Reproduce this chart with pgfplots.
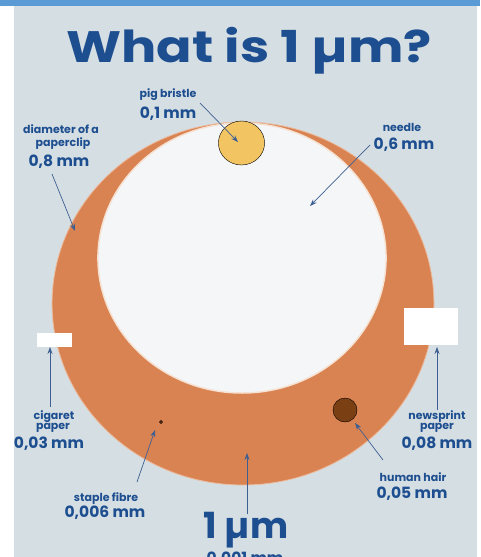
\documentclass[border=0pt]{standalone}
\usepackage{pgfplots}
\pgfplotsset{compat=1.18}
\usepackage{fontspec}
\setmainfont{Poppins}
\usetikzlibrary{arrows.meta}
\definecolor{bg}{HTML}{D5DEE2}
\definecolor{topbar}{HTML}{5B9BD5}
\definecolor{orng}{HTML}{DA8352}
\definecolor{inner}{HTML}{F5F6F8}
\definecolor{rim}{HTML}{F6E2D2}
\definecolor{yell}{HTML}{F2C462}
\definecolor{brown}{HTML}{7B3F14}
\definecolor{txt}{HTML}{1D4E90}
\definecolor{arr}{HTML}{3E5F92}
\newcommand{\nm}{\color{txt}\fontsize{11}{12}\selectfont\bfseries}
\newcommand{\vl}{\color{txt}\fontsize{15.5}{16}\selectfont\bfseries}
\begin{document}
\begin{tikzpicture}
\path[use as bounding box] (0,0) rectangle (480pt,557pt);
\clip (0,0) rectangle (480pt,557pt);
\begin{axis}[at={(0,0)}, anchor=south west, scale only axis,
  width=480pt, height=557pt, xmin=0, xmax=480, ymin=0, ymax=557,
  y dir=reverse, hide axis, clip=false, clip marker paths=true,
  arrw/.style={arr, line width=0.7pt, -{Stealth[length=7pt,width=5pt]}},
  rect/.style={fill=white, draw=none}]
% page and background
\addplot[fill=white, draw=none] coordinates {(0,0) (480,0) (480,557) (0,557)} -- cycle;
\addplot[fill=bg, draw=none] coordinates {(14,6) (477,6) (477,557) (14,557)} -- cycle;
\addplot[fill=topbar, draw=none] coordinates {(0,0) (480,0) (480,6) (0,6)} -- cycle;
% circles (centre x, centre y; radius as mark size)
\addplot[only marks, mark=*, mark size=181.5pt, mark options={fill=orng, draw=rim!60!orng, line width=0.8pt, xscale=1.052}] coordinates {(243,303.5)};
\addplot[only marks, mark=*, mark size=135pt, mark options={fill=inner, draw=rim, line width=1.5pt, xscale=1.067}] coordinates {(242,258)};
\addplot[only marks, mark=*, mark size=22pt, mark options={fill=yell, draw=none, xscale=1.05}] coordinates {(241.5,143)};
\addplot[only marks, mark=*, mark size=12pt, mark options={fill=brown, draw=none}] coordinates {(345,410)};
\addplot[only marks, mark=*, mark size=1.6pt, mark options={fill=brown!80!black, draw=none}] coordinates {(161,422)};
% paper rectangles
\addplot[rect] coordinates {(37,333) (72,333) (72,347) (37,347)} -- cycle;
\addplot[rect] coordinates {(404,308) (458,308) (458,345) (404,345)} -- cycle;
% arrows
\addplot[arrw] coordinates {(200,103) (238,142)};
\addplot[arrw] coordinates {(370,145) (310,206)};
\addplot[arrw] coordinates {(52,174) (75,231)};
\addplot[arrw] coordinates {(50,407) (50,347)};
\addplot[arrw] coordinates {(437,410) (437,347)};
\addplot[arrw] coordinates {(383,460) (355,423)};
\addplot[arrw] coordinates {(137,482) (155,430)};
\addplot[arrw] coordinates {(247,514) (247,453)};
% title
\node[anchor=base] at (axis cs:249,62) {\scalebox{1.19}[1]{\color{txt}\fontsize{44}{46}\selectfont\bfseries What is 1 µm?}};
% labels
\node[anchor=base] at (axis cs:168,97) {\nm pig bristle};
\node[anchor=base] at (axis cs:168,118) {\vl 0,1 mm};
\node[anchor=base] at (axis cs:61,133) {\nm diameter of a};
\node[anchor=base] at (axis cs:63,146) {\nm paperclip};
\node[anchor=base] at (axis cs:59,166) {\vl 0,8 mm};
\node[anchor=base] at (axis cs:402,131) {\nm needle};
\node[anchor=base] at (axis cs:404,149) {\vl 0,6 mm};
\node[anchor=base] at (axis cs:54,419) {\nm cigaret};
\node[anchor=base] at (axis cs:53,429) {\nm paper};
\node[anchor=base] at (axis cs:49,448) {\vl 0,03 mm};
\node[anchor=base] at (axis cs:437,419) {\nm newsprint};
\node[anchor=base] at (axis cs:437,429) {\nm paper};
\node[anchor=base] at (axis cs:437,448) {\vl 0,08 mm};
\node[anchor=base] at (axis cs:413,481) {\nm human hair};
\node[anchor=base] at (axis cs:412,498) {\vl 0,05 mm};
\node[anchor=base] at (axis cs:106,501) {\nm staple fibre};
\node[anchor=base] at (axis cs:105,517) {\vl 0,006 mm};
\node[anchor=base] at (axis cs:246,538) {\color{txt}\fontsize{36}{38}\selectfont\bfseries 1 µm};
\node[anchor=base] at (axis cs:245,563) {\vl 0,001 mm};
\end{axis}
\end{tikzpicture}
\end{document}
